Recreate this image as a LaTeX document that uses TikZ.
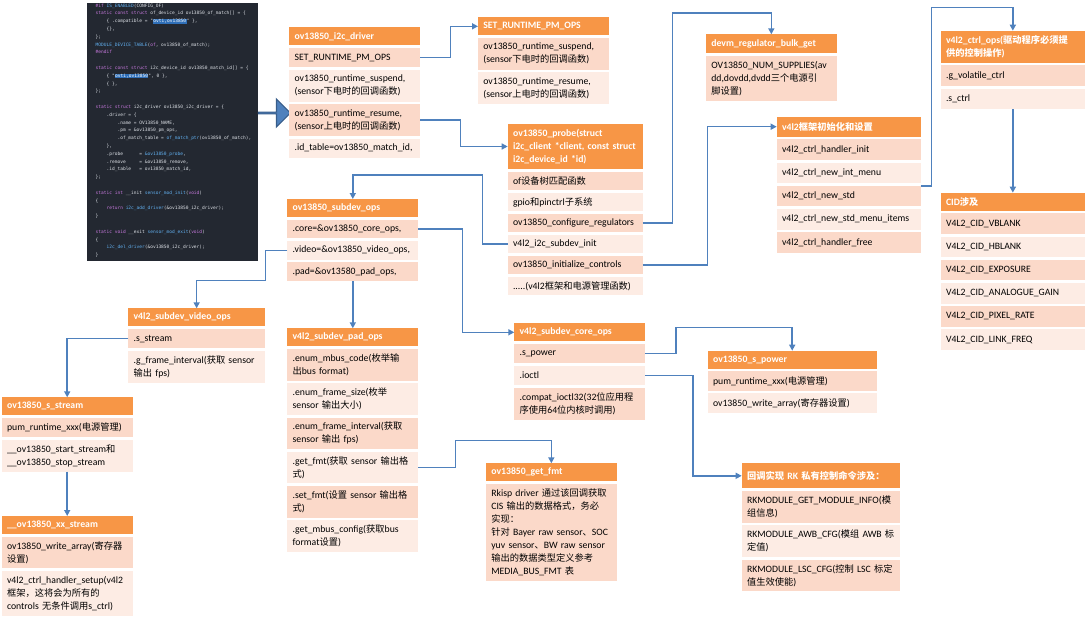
\documentclass[tikz,border=0pt]{standalone}
\usepackage{fontspec}
\setmainfont{Carlito}
\setmonofont{DejaVu Sans Mono}
\newfontfamily\cjkfont[Scale=0.95]{Noto Sans CJK SC}
\newcommand\zh[1]{{\cjkfont #1}}
\usetikzlibrary{arrows.meta, positioning, shapes.arrows}
\definecolor{corange}{HTML}{F79646}
\definecolor{crowa}{HTML}{FBD9C9}
\definecolor{crowb}{HTML}{FDECE4}
\definecolor{cline}{HTML}{4F81BD}
\definecolor{cbluedk}{HTML}{385D8A}
\definecolor{ccode}{HTML}{232831}
\definecolor{ctext}{HTML}{DCE0E6}
\definecolor{ckw}{HTML}{C678DD}
\definecolor{cfn}{HTML}{61AFEF}
\definecolor{chl}{HTML}{2F6FB8}
\newcommand\kwd[1]{\textcolor{ckw}{#1}}
\newcommand\fnc[1]{\textcolor{cfn}{#1}}
\newcommand\hls[1]{{\setlength\fboxsep{0.3pt}\colorbox{chl}{\textcolor{white}{#1}}}}
\newcommand\ci{~~~~}
\tikzset{
  every picture/.style={font=\fontsize{7.3}{9.75}\selectfont, line width=1.1pt},
  hd/.style={fill=corange, text=white, font=\fontsize{7.3}{9.75}\selectfont\bfseries, anchor=north west, align=left, inner xsep=4pt, inner ysep=1pt, outer sep=0pt, minimum height=13.5pt, text width=#1},
  rowa/.style={fill=crowa, align=left, inner xsep=4pt, inner ysep=1pt, outer sep=0pt, minimum height=14.5pt, text width=#1},
  rowb/.style={rowa=#1, fill=crowb},
  dbl/.style={minimum height=23.7pt},
  trp/.style={minimum height=33.5pt},
  conn/.style={draw=cline, -{Triangle[length=4.5pt, width=4.5pt]}},
  codebox/.style={fill=ccode, anchor=north west, minimum width=128.25pt, minimum height=193.5pt, inner sep=0pt},
  codetxt/.style={anchor=north west, align=left, inner sep=0pt, text=ctext, font=\fontsize{3.4}{5.85}\selectfont\ttfamily},
  bigarrow/.style={single arrow, fill=cline, draw=cbluedk, line width=0.8pt, minimum height=24pt, minimum width=21pt, single arrow head extend=5.5pt, inner sep=0pt},
}

\begin{document}
\begin{tikzpicture}[x=0.75pt, y=-0.75pt, node distance=2pt]
  \useasboundingbox (0,0) rectangle (1088,621);
  % code shot
  \node[codebox] (codebg) at (86,2) {};
  \node[codetxt] (code) at (95,3) {%
    \kwd{\#if} \fnc{IS\_ENABLED}(CONFIG\_OF)\\
    \kwd{static const struct} of\_device\_id ov13850\_of\_match[] = \{\\
    \ci\{ .compatible = "\hls{ovti,ov13850}" \},\\
    \ci\{\},\\
    \};\\
    \fnc{MODULE\_DEVICE\_TABLE}(\kwd{of}, ov13850\_of\_match);\\
    \kwd{\#endif}\\[5.85pt]
    \kwd{static const struct} i2c\_device\_id ov13850\_match\_id[] = \{\\
    \ci\{ "\hls{ovti,ov13850}", 0 \},\\
    \ci\{ \},\\
    \};\\[5.85pt]
    \kwd{static struct} i2c\_driver ov13850\_i2c\_driver = \{\\
    \ci.driver = \{\\
    \ci\ci.name = OV13850\_NAME,\\
    \ci\ci.pm = \&ov13850\_pm\_ops,\\
    \ci\ci.of\_match\_table = \fnc{of\_match\_ptr}(ov13850\_of\_match),\\
    \ci\},\\
    \ci.probe~~~~~~= \fnc{\&ov13850\_probe},\\
    \ci.remove~~~~~= \&ov13850\_remove,\\
    \ci.id\_table~~~= ov13850\_match\_id,\\
    \};\\[5.85pt]
    \kwd{static int} \_\_init \fnc{sensor\_mod\_init}(\kwd{void})\\
    \{\\
    \ci\kwd{return} \fnc{i2c\_add\_driver}(\&ov13850\_i2c\_driver);\\
    \}\\[5.85pt]
    \kwd{static void} \_\_exit \fnc{sensor\_mod\_exit}(\kwd{void})\\
    \{\\
    \ci\fnc{i2c\_del\_driver}(\&ov13850\_i2c\_driver);\\
    \}};
  \node[bigarrow] (arr) at (274,113) {};

  % i2c driver
  \node[hd=90.25pt] (i2cHd) at (289.3,27.3) {ov13850\_i2c\_driver};
  \node[rowa=90.25pt, below=of i2cHd] (i2cSet) {SET\_RUNTIME\_PM\_OPS};
  \node[rowb=90.25pt, dbl, below=of i2cSet] (i2cSus) {ov13850\_runtime\_suspend,\\(sensor\zh{下电时的回调函数})};
  \node[rowa=90.25pt, dbl, below=of i2cSus] (i2cRes) {ov13850\_runtime\_resume,\\(sensor\zh{上电时的回调函数})};
  \node[rowb=90.25pt, below=of i2cRes] (i2cId) {.id\_table=ov13850\_match\_id,};

  % runtime pm
  \node[hd=90.25pt] (pmHd) at (478,17.3) {SET\_RUNTIME\_PM\_OPS};
  \node[rowa=90.25pt, dbl, below=of pmHd] (pmSus) {ov13850\_runtime\_suspend,\\(sensor\zh{下电时的回调函数})};
  \node[rowb=90.25pt, dbl, below=of pmSus] (pmRes) {ov13850\_runtime\_resume,\\(sensor\zh{上电时的回调函数})};

  % probe
  \node[hd=93.25pt, minimum height=33.75pt] (prHd) at (507.7,124) {ov13850\_probe(struct\\i2c\_client *client, const struct\\i2c\_device\_id *id)};
  \node[rowa=93.25pt, minimum height=13.8pt, below=of prHd] (prOf) {of\zh{设备树匹配函数}};
  \node[rowb=93.25pt, minimum height=13.8pt, below=of prOf] (prGpio) {gpio\zh{和}pinctrl\zh{子系统}};
  \node[rowa=93.25pt, minimum height=13.8pt, below=of prGpio] (prCfg) {ov13850\_configure\_regulators};
  \node[rowb=93.25pt, minimum height=13.8pt, below=of prCfg] (prSub) {v4l2\_i2c\_subdev\_init};
  \node[rowa=93.25pt, minimum height=13.8pt, below=of prSub] (prInit) {ov13850\_initialize\_controls};
  \node[rowb=93.25pt, minimum height=13.8pt, below=of prInit] (prMore) {.....(v4l2\zh{框架和电源管理函数})};

  % regulator
  \node[hd=90pt, minimum height=14.25pt] (devHd) at (706,34.3) {devm\_regulator\_bulk\_get};
  \node[rowa=90pt, trp, below=of devHd] (devSup) {OV13850\_NUM\_SUPPLIES(av\\dd,dovdd,dvdd\zh{三个电源引}\\\zh{脚设置})};

  % v4l2 framework
  \node[hd=100pt, minimum height=15pt] (vfHd) at (776.7,116.7) {v4l2\zh{框架初始化和设置}};
  \node[rowa=100pt, minimum height=15.4pt, below=of vfHd] (vfIni) {v4l2\_ctrl\_handler\_init};
  \node[rowb=100pt, minimum height=15.4pt, below=of vfIni] (vfMenu) {v4l2\_ctrl\_new\_int\_menu};
  \node[rowa=100pt, minimum height=15.4pt, below=of vfMenu] (vfStd) {v4l2\_ctrl\_new\_std};
  \node[rowb=100pt, minimum height=15.4pt, below=of vfStd] (vfItm) {v4l2\_ctrl\_new\_std\_menu\_items};
  \node[rowa=100pt, minimum height=15.4pt, below=of vfItm] (vfFree) {v4l2\_ctrl\_handler\_free};

  % ctrl ops and CID
  \node[hd=100.2pt, minimum height=24pt] (ctHd) at (940.7,30.7) {v4l2\_ctrl\_ops(\zh{驱动程序必须提}\\\zh{供的控制操作})};
  \node[rowa=100.2pt, minimum height=15.5pt, below=of ctHd] (ctG) {.g\_volatile\_ctrl};
  \node[rowb=100.2pt, minimum height=15.5pt, below=of ctG] (ctS) {.s\_ctrl};
  \node[hd=100.2pt] (cidHd) at (940.7,192.7) {CID\zh{涉及}};
  \node[rowa=100.2pt, minimum height=15.4pt, below=of cidHd] (cidV) {V4L2\_CID\_VBLANK};
  \node[rowb=100.2pt, minimum height=15.4pt, below=of cidV] (cidH) {V4L2\_CID\_HBLANK};
  \node[rowa=100.2pt, minimum height=15.4pt, below=of cidH] (cidE) {V4L2\_CID\_EXPOSURE};
  \node[rowb=100.2pt, minimum height=15.4pt, below=of cidE] (cidA) {V4L2\_CID\_ANALOGUE\_GAIN};
  \node[rowa=100.2pt, minimum height=15.4pt, below=of cidA] (cidP) {V4L2\_CID\_PIXEL\_RATE};
  \node[rowb=100.2pt, minimum height=15.4pt, below=of cidP] (cidL) {V4L2\_CID\_LINK\_FREQ};

  % subdev ops
  \node[hd=90.25pt] (sdHd) at (287.3,199) {ov13850\_subdev\_ops};
  \node[rowa=90.25pt, minimum height=14pt, below=of sdHd] (sdCore) {.core=\&ov13850\_core\_ops,};
  \node[rowb=90.25pt, minimum height=14pt, below=of sdCore] (sdVid) {.video=\&ov13850\_video\_ops,};
  \node[rowa=90.25pt, minimum height=14pt, below=of sdVid] (sdPad) {.pad=\&ov13580\_pad\_ops,};

  % video ops
  \node[hd=94.5pt] (vdHd) at (128.3,308.3) {v4l2\_subdev\_video\_ops};
  \node[rowa=94.5pt, below=of vdHd] (vdS) {.s\_stream};
  \node[rowb=94.5pt, dbl, below=of vdS] (vdG) {.g\_frame\_interval(\zh{获取} sensor\\\zh{输出} fps)};

  % s_stream
  \node[hd=90.25pt] (ssHd) at (1.7,397.3) {ov13850\_s\_stream};
  \node[rowa=90.25pt, below=of ssHd] (ssPm) {pum\_runtime\_xxx(\zh{电源管理})};
  \node[rowb=90.25pt, dbl, below=of ssPm] (ssStart) {\_\_ov13850\_start\_stream\zh{和}\\\_\_ov13850\_stop\_stream};
  \node[hd=90.25pt] (xxHd) at (1.7,516) {\_\_ov13850\_xx\_stream};
  \node[rowa=90.25pt, dbl, below=of xxHd] (xxW) {ov13850\_write\_array(\zh{寄存器}\\\zh{设置})};
  \node[rowb=90.25pt, trp, below=of xxW] (xxSet) {v4l2\_ctrl\_handler\_setup(v4l2\\\zh{框架，这将会为所有的}\\controls \zh{无条件调用}s\_ctrl)};

  % pad ops
  \node[hd=90.25pt] (paHd) at (287.3,328.3) {v4l2\_subdev\_pad\_ops};
  \node[rowa=90.25pt, dbl, below=of paHd] (paCode) {.enum\_mbus\_code(\zh{枚举输}\\\zh{出}bus format)};
  \node[rowb=90.25pt, dbl, below=of paCode] (paSize) {.enum\_frame\_size(\zh{枚举}\\sensor \zh{输出大小})};
  \node[rowa=90.25pt, dbl, below=of paSize] (paInt) {.enum\_frame\_interval(\zh{获取}\\sensor \zh{输出} fps)};
  \node[rowb=90.25pt, dbl, below=of paInt] (paGet) {.get\_fmt(\zh{获取} sensor \zh{输出格}\\\zh{式})};
  \node[rowa=90.25pt, dbl, below=of paGet] (paSet) {.set\_fmt(\zh{设置} sensor \zh{输出格}\\\zh{式})};
  \node[rowb=90.25pt, dbl, below=of paSet] (paMb) {.get\_mbus\_config(\zh{获取}bus\\format\zh{设置})};

  % core ops
  \node[hd=90pt] (coHd) at (514.3,323.3) {v4l2\_subdev\_core\_ops};
  \node[rowa=90pt, below=of coHd] (coPow) {.s\_power};
  \node[rowb=90pt, below=of coPow] (coIoc) {.ioctl};
  \node[rowa=90pt, dbl, below=of coIoc] (coCmp) {.compat\_ioctl32(32\zh{位应用程}\\\zh{序使用}64\zh{位内核时调用})};

  % s_power
  \node[hd=118.75pt] (spHd) at (707.7,350.7) {ov13850\_s\_power};
  \node[rowa=118.75pt, below=of spHd] (spPm) {pum\_runtime\_xxx(\zh{电源管理})};
  \node[rowb=118.75pt, below=of spPm] (spW) {ov13850\_write\_array(\zh{寄存器设置})};

  % get_fmt
  \node[hd=90pt] (gfHd) at (486,463.3) {ov13850\_get\_fmt};
  \node[rowa=90pt, minimum height=73pt, below=of gfHd] (gfTxt) {Rkisp driver \zh{通过该回调获取}\\CIS \zh{输出的数据格式，务必}\\\zh{实现：}\\\zh{针对} Bayer raw sensor\zh{、}SOC\\yuv sensor\zh{、}BW raw sensor\\\zh{输出的数据类型定义参考}\\MEDIA\_BUS\_FMT \zh{表}};

  % RK private
  \node[hd=110.7pt, minimum height=18.75pt] (rkHd) at (741.7,463.3) {\zh{回调实现} RK \zh{私有控制命令涉及：}};
  \node[rowa=110.7pt, dbl, below=of rkHd] (rkInfo) {RKMODULE\_GET\_MODULE\_INFO(\zh{模}\\\zh{组信息})};
  \node[rowb=110.7pt, dbl, below=of rkInfo] (rkAwb) {RKMODULE\_AWB\_CFG(\zh{模组} AWB \zh{标}\\\zh{定值})};
  \node[rowa=110.7pt, dbl, below=of rkAwb] (rkLsc) {RKMODULE\_LSC\_CFG(\zh{控制} LSC \zh{标定}\\\zh{值生效使能})};

  % connectors
  \draw[conn] (i2cSet.east) -- ++(30,0) |- (pmHd.west);
  \draw[conn] (i2cRes.east) -- ++(40,0) |- (prHd.west);
  \draw[conn] (prCfg.east) -- ++(30,0) |- ([yshift=16pt]devHd.north) -- (devHd.north);
  \draw[conn] (prInit.east) -- ++(65,0) |- (vfHd.west);
  \draw[conn] (vfStd.north east) -- ++(11,0) |- ([yshift=17.5pt]ctHd.north) -- (ctHd.north);
  \draw[conn] (ctS.south) -- (cidHd.north);
  \draw[conn] (prSub.west) -- ++(-25,0) |- ([yshift=18pt]sdHd.north) -- (sdHd.north);
  \draw[conn] (sdCore.east) -- ++(44,0) |- (coHd.west);
  \draw[conn] (sdVid.west) -- ++(-22,0) |- ([yshift=21pt]vdHd.north) -- (vdHd.north);
  \draw[conn] (sdPad.south) -- (paHd.north);
  \draw[conn] (vdS.west) -| (ssHd.north);
  \draw[conn] (ssStart.south) -- (xxHd.north);
  \draw[conn] (paGet.east) -- ++(37,0) |- ([yshift=17pt]gfHd.north) -- (gfHd.north);
  \draw[conn] (coPow.east) -- ++(31,0) |- ([yshift=17.5pt]spHd.north) -- (spHd.north);
  \draw[conn] (coIoc.east) -- ++(48,0) |- (rkHd.west);
\end{tikzpicture}
\end{document}
